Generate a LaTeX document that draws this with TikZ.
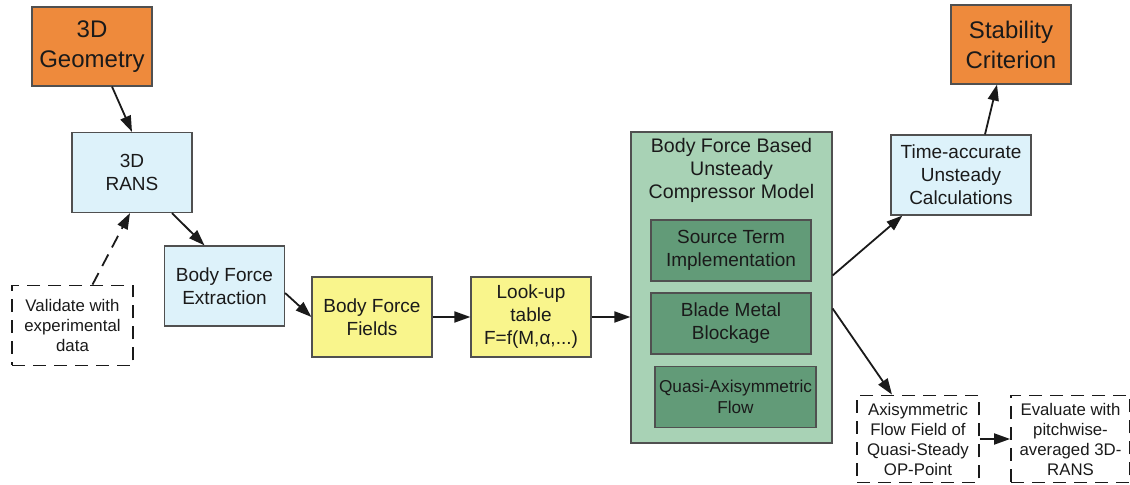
\documentclass[tikz,border=0pt]{standalone}
\usepackage{fontspec}
\setmainfont{Liberation Sans}
\usetikzlibrary{calc, positioning, arrows.meta}
\definecolor{color_orange}{HTML}{EE8A3C}
\definecolor{color_sky}{HTML}{DDF2FA}
\definecolor{color_yellow}{HTML}{F9F58C}
\definecolor{color_model}{HTML}{A8D2B5}
\definecolor{color_inner}{HTML}{629B78}
\definecolor{color_edge}{HTML}{505050}
\definecolor{color_text}{HTML}{1A1A1A}
\tikzset{
  flow_box/.style={draw=color_edge, line width=0.6pt, align=center, text=color_text, inner sep=2pt},
  goal_box/.style={flow_box, fill=color_orange, minimum width=60pt, minimum height=39.5pt, font=\fontsize{12}{15}\selectfont},
  sky_box/.style={flow_box, fill=color_sky, minimum width=60pt, minimum height=40pt, font=\fontsize{9.5}{11.5}\selectfont},
  field_box/.style={flow_box, fill=color_yellow, minimum width=60pt, minimum height=40pt, font=\fontsize{9.5}{11.5}\selectfont},
  model_box/.style={flow_box, fill=color_model, minimum width=100.5pt, minimum height=155.5pt},
  inner_box/.style={flow_box, fill=color_inner, minimum width=80pt, minimum height=30.5pt, font=\fontsize{9.5}{11.5}\selectfont},
  check_box/.style={draw=color_text, line width=0.9pt, dash pattern=on 6.5pt off 4pt, align=center, text=color_text, font=\fontsize{8.4}{10}\selectfont, minimum height=40pt},
  flow_arrow/.style={-{Triangle[length=8pt, width=5.5pt]}, draw=color_text, line width=0.9pt},
}
\begin{document}
\begin{tikzpicture}[x=0.5pt, y=-0.5pt]
    \useasboundingbox (0,0) rectangle (1130,485);
    \node[goal_box] (geo) at (92,46.5) {3D\\Geometry};
    \node[sky_box] (rans) at (132,172.5) {3D\\RANS};
    \node[check_box, minimum width=60.5pt] (valid) at (72.5,325.5) {Validate with\\experimental\\data};
    \node[sky_box] (extr) at (224.5,286) {Body Force\\Extraction};
    \node[field_box] (fields) at (372,317) {Body Force\\Fields};
    \node[field_box] (lookup) at (531,317) {Look-up\\table\\F=f(M,α,...)};
    % compressor model with its three parts
    \node[model_box] (model) at (731.5,287.5) {};
    \node[align=center, text=color_text, font=\fontsize{9.8}{11.5}\selectfont] (model_title) at (731.5,170) {Body Force Based\\Unsteady\\Compressor Model};
    \node[inner_box] (source) at (731,250.5) {Source Term\\Implementation};
    \node[inner_box] (blade) at (731,323.5) {Blade Metal\\Blockage};
    \node[inner_box, font=\fontsize{8.6}{10.5}\selectfont] (quasi) at (735.5,397) {Quasi-Axisymmetric\\Flow};
    \node[sky_box, minimum width=70pt] (time) at (961,175) {Time-accurate\\Unsteady\\Calculations};
    \node[goal_box] (stab) at (1011,44.5) {Stability\\Criterion};
    \node[check_box, minimum width=61pt, minimum height=43.5pt] (axi) at (918,439) {Axisymmetric\\Flow Field of\\Quasi-Steady\\OP-Point};
    \node[check_box, minimum width=59.5pt, minimum height=43.5pt] (eval) at (1070.5,439) {Evaluate with\\pitchwise-\\averaged 3D-\\RANS};
    % connectors
    \draw[flow_arrow] ([xshift=10pt]geo.south) -- (rans.north);
    \draw[flow_arrow] ([xshift=20pt]rans.south) -- ([xshift=-10pt]extr.north);
    \draw[flow_arrow, dash pattern=on 6.5pt off 4pt] ([xshift=10pt]valid.north) -- ([xshift=-1pt]rans.south);
    \draw[flow_arrow] ([yshift=-3.5pt]extr.east) -- (fields.west);
    \draw[flow_arrow] (fields.east) -- (lookup.west);
    \draw[flow_arrow] (lookup.east) -- (lookup.east -| model.west);
    \draw[flow_arrow] ([yshift=6pt]model.east) -- ([xshift=6pt]time.south west);
    \draw[flow_arrow] ([yshift=-10.5pt]model.east) -- ([xshift=-13pt]axi.north);
    \draw[flow_arrow] ([xshift=12pt]time.north) -- ([xshift=-7pt]stab.south);
    \draw[flow_arrow] (axi.east) -- (eval.west);
\end{tikzpicture}
\end{document}
